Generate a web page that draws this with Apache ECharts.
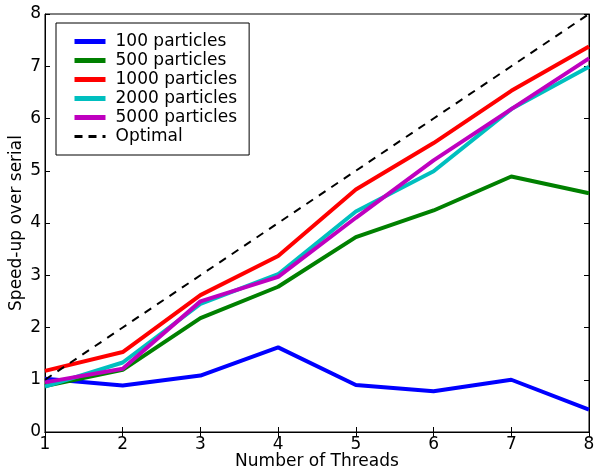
<!DOCTYPE html>
<html>
<head>
<meta charset="utf-8">
<script src="https://cdn.jsdelivr.net/npm/echarts@6/dist/echarts.min.js"></script>
<style>
  html, body { margin: 0; padding: 0; background: #fff; }
  #container { width: 595px; height: 473px; }
</style>
</head>
<body>
<div id="container"></div>
<script>
// threads on the x axis
const threads = [1, 2, 3, 4, 5, 6, 7, 8];
// speed-up values
const p100 = [1.02, 0.89, 1.08, 1.62, 0.9, 0.78, 1.0, 0.43];
const p500 = [0.88, 1.19, 2.18, 2.78, 3.73, 4.24, 4.89, 4.57];
const p1000 = [1.17, 1.53, 2.62, 3.37, 4.64, 5.53, 6.53, 7.38];
const p2000 = [0.87, 1.33, 2.45, 3.02, 4.22, 4.99, 6.18, 6.99];
const p5000 = [0.95, 1.21, 2.5, 2.97, 4.1, 5.2, 6.18, 7.15];
const optimal = [1, 2, 3, 4, 5, 6, 7, 8];
const names = ['100 particles', '500 particles', '1000 particles', '2000 particles', '5000 particles', 'Optimal'];

const font = '"DejaVu Sans", sans-serif';
const pairs = (ys) => threads.map((t, i) => [t, ys[i]]);

function line(name, data, color, dashed) {
  return {
    name: name,
    type: 'line',
    data: pairs(data),
    symbol: 'none',
    animation: false,
    lineStyle: {
      color: color,
      width: dashed ? 2 : 4,
      type: dashed ? [8, 7] : 'solid',
    },
    itemStyle: { color: color },
  };
}

var graph = echarts.init(document.getElementById('container'));
option = {
  backgroundColor: '#fff',
  animation: false,
  grid: {
    left: 45,
    right: 6,
    top: 14,
    bottom: 41,
    outerBoundsMode: 'none',
    containLabel: false,
    show: true,
    borderColor: '#000',
    borderWidth: 1,
  },
  legend: {
    orient: 'vertical',
    left: 56,
    top: 23,
    padding: [10, 12, 10, 16],
    itemGap: 2,
    itemWidth: 31,
    itemHeight: 14,
    backgroundColor: '#fff',
    borderColor: '#000',
    borderWidth: 1,
    borderRadius: 0,
    itemStyle: { opacity: 0 },
    textStyle: { fontFamily: font, fontSize: 17, color: '#000', padding: [0, 0, 0, 5] },
    data: names.map((n, i) => ({
      name: n,
      lineStyle: i === 5 ? { width: 3, type: [8, 6] } : { width: 5 },
    })),
  },
  xAxis: [
    {
      type: 'value',
      min: 1,
      max: 8,
      interval: 1,
      name: 'Number of Threads',
      nameLocation: 'middle',
      nameGap: 21,
      nameMoveOverlap: false,
      nameTextStyle: { fontFamily: font, fontSize: 17, color: '#000' },
      axisLine: { show: true, lineStyle: { color: '#000' } },
      axisTick: { inside: true, length: 5, lineStyle: { color: '#000' } },
      axisLabel: { fontFamily: font, fontSize: 17, color: '#000', margin: 4 },
      splitLine: { show: false },
    },
    {
      type: 'value',
      position: 'top',
      min: 1,
      max: 8,
      interval: 1,
      axisLine: { show: true, lineStyle: { color: '#000' } },
      axisTick: { inside: true, length: 5, lineStyle: { color: '#000' } },
      axisLabel: { show: false },
      splitLine: { show: false },
    },
  ],
  yAxis: [
    {
      type: 'value',
      min: 0,
      max: 8,
      interval: 1,
      name: 'Speed-up over serial',
      nameLocation: 'middle',
      nameGap: 20,
      nameMoveOverlap: false,
      nameTextStyle: { fontFamily: font, fontSize: 17, color: '#000' },
      axisLine: { show: true, lineStyle: { color: '#000' } },
      axisTick: { inside: true, length: 5, lineStyle: { color: '#000' } },
      axisLabel: { fontFamily: font, fontSize: 17, color: '#000', margin: 4 },
      splitLine: { show: false },
    },
    {
      type: 'value',
      position: 'right',
      min: 0,
      max: 8,
      interval: 1,
      axisLine: { show: true, lineStyle: { color: '#000' } },
      axisTick: { inside: true, length: 5, lineStyle: { color: '#000' } },
      axisLabel: { show: false },
      splitLine: { show: false },
    },
  ],
  series: [
    line(names[0], p100, '#0000ff'),
    line(names[1], p500, '#008000'),
    line(names[2], p1000, '#ff0000'),
    line(names[3], p2000, '#00bfbf'),
    line(names[4], p5000, '#bf00bf'),
    line(names[5], optimal, '#000000', true),
  ],
};

if (option && typeof option === 'object') {
  graph.setOption(option);
}
</script>
</body>
</html>
